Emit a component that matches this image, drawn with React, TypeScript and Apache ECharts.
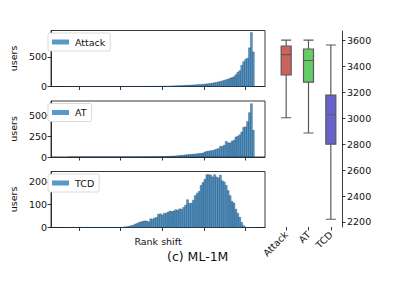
import React, { useEffect, useRef } from "react";
import * as echarts from "echarts";

// Histogram bins (rank shift), shared grid
const binStart = -4256;
const binWidth = 46.5;
const xTicks = [-4000, -3000, -2000, -1000, 0];

const attackCounts = [
  0, 0, 0, 0, 0, 0, 0, 0, 0, 0, 0, 0, 0, 0, 0, 0, 0, 0, 0, 0,
  0, 0, 0, 0, 1, 0, 0, 0, 1, 0, 0, 1, 0, 1, 0, 1, 1, 1, 1, 1,
  1, 2, 2, 2, 3, 3, 3, 4, 4, 5, 6, 7, 8, 10, 11, 12, 13, 15, 16, 18,
  20, 21, 23, 25, 26, 28, 30, 32, 34, 36, 40, 44, 48, 52, 58, 64, 70, 78, 85, 95,
  105, 115, 125, 140, 150, 165, 200, 240, 270, 360, 420, 460, 480, 655, 914, 586,
];

const atCounts = [
  0, 0, 0, 0, 0, 0, 0, 0, 0, 0, 0, 0, 0, 0, 0, 0, 0, 0, 0, 0,
  0, 0, 0, 0, 0, 1, 0, 0, 0, 1, 0, 0, 1, 0, 1, 0, 1, 1, 1, 1,
  1, 1, 2, 2, 2, 3, 3, 4, 4, 5, 6, 7, 8, 10, 11, 13, 15, 18, 20, 22,
  26, 28, 30, 32, 34, 36, 38, 42, 44, 48, 60, 68, 70, 75, 78, 85, 95, 100, 127, 128,
  140, 187, 170, 168, 190, 200, 240, 250, 266, 300, 355, 362, 425, 532, 639, 321,
];

const tcdCounts = [
  0, 0, 1, 0, 0, 0, 1, 0, 0, 1, 0, 0, 0, 1, 0, 0, 1, 0, 0, 0,
  1, 0, 0, 1, 0, 0, 1, 0, 2, 3, 4, 6, 8, 10, 15, 18, 22, 25, 27, 29,
  28, 25, 38, 36, 42, 44, 58, 60, 55, 62, 63, 68, 72, 70, 73, 78, 76, 82, 80, 88,
  98, 122, 106, 107, 120, 140, 150, 158, 185, 198, 212, 232, 232, 230, 222, 232, 222, 218, 230, 205,
  200, 185, 162, 140, 115, 108, 80, 62, 45, 22, 8, 2, 0, 0, 0, 0,
];

// Box plot: [min, Q1, median, Q3, max]
const boxCategories = ["Attack", "AT", "TCD"];
const attackBox = [3005, 3335, 3492, 3559, 3605];
const atBox = [2887, 3280, 3447, 3536, 3605];
const tcdBox = [2221, 2801, 3028, 3180, 3567];
const boxYTicks = [2200, 2400, 2600, 2800, 3000, 3200, 3400, 3600];

const histYTicks = [
  [0, 500],
  [0, 250, 500],
  [0, 100, 200],
];
const histYMax = [949, 672, 246];
const histNames = ["Attack", "AT", "TCD"];

const FONT = "DejaVu Sans";
const BAR_FILL = "rgba(31,119,180,0.75)";

function toBins(counts: number[]) {
  return counts.map((c, i) => [binStart + i * binWidth, binStart + (i + 1) * binWidth, c]);
}

export default function App() {
  const ref = useRef<HTMLDivElement>(null);
  useEffect(() => {
    if (!ref.current) return;
    const chart = echarts.init(ref.current, undefined, { renderer: "svg" });
    const allCounts = [attackCounts, atCounts, tcdCounts];
    const gridTops = [30.5, 101, 171.5];
    const grids: any[] = gridTops.map((t) => ({
      left: 44,
      top: t,
      width: 221,
      height: 56,
      show: true,
      borderColor: "#222",
      borderWidth: 0.9,
      backgroundColor: "transparent",
    }));
    grids.push({ left: 275, top: 31, width: 67, height: 196 });

    const xAxes: any[] = gridTops.map((_, i) => ({
      type: "value",
      gridIndex: i,
      min: -4674,
      max: 465,
      axisLine: { show: true, onZero: false, lineStyle: { color: "#222", width: 0.9 } },
      axisTick: {
        show: true,
        customValues: xTicks,
        length: 3.5,
        lineStyle: { color: "#222", width: 0.9 },
      },
      axisLabel: { show: false },
      splitLine: { show: false },
      name: i === 2 ? "Rank shift" : "",
      nameLocation: "middle",
      nameGap: 9,
      nameTextStyle: { fontFamily: FONT, fontSize: 9.5, color: "#111" },
    }));
    xAxes.push({
      type: "category",
      gridIndex: 3,
      data: boxCategories,
      axisLine: { show: false, onZero: false },
      axisTick: {
        show: true,
        alignWithLabel: true,
        length: 3.5,
        lineStyle: { color: "#222", width: 0.9 },
      },
      axisLabel: {
        rotate: 45,
        interval: 0,
        fontFamily: FONT,
        fontSize: 9.5,
        color: "#111",
        margin: 6,
      },
    });

    const yAxes: any[] = gridTops.map((_, i) => ({
      type: "value",
      gridIndex: i,
      min: 0,
      max: histYMax[i],
      axisLine: { show: true, onZero: false, lineStyle: { color: "#222", width: 0.9 } },
      axisTick: {
        show: true,
        customValues: histYTicks[i],
        length: 3.5,
        lineStyle: { color: "#222", width: 0.9 },
      },
      axisLabel: {
        customValues: histYTicks[i],
        formatter: (v: number) => String(v),
        fontFamily: FONT,
        fontSize: 9.5,
        color: "#111",
        margin: 4,
      },
      splitLine: { show: false },
      name: "users",
      nameLocation: "middle",
      nameRotate: 90,
      nameGap: 26,
      nameTextStyle: { fontFamily: FONT, fontSize: 9.5, color: "#111" },
    }));
    yAxes.push({
      type: "value",
      gridIndex: 3,
      position: "right",
      min: 2161,
      max: 3675,
      axisLine: { show: true, onZero: false, lineStyle: { color: "#222", width: 0.9 } },
      axisTick: {
        show: true,
        customValues: boxYTicks,
        length: 3.5,
        lineStyle: { color: "#222", width: 0.9 },
      },
      axisLabel: {
        customValues: boxYTicks,
        formatter: (v: number) => String(v),
        fontFamily: FONT,
        fontSize: 9.5,
        color: "#111",
        margin: 5,
      },
      splitLine: { show: false },
    });

    const series: any[] = allCounts.map((counts, i) => ({
      type: "custom",
      name: histNames[i],
      xAxisIndex: i,
      yAxisIndex: i,
      itemStyle: { color: BAR_FILL },
      data: toBins(counts),
      renderItem: (params: any, api: any) => {
        const x0 = api.value(0);
        const x1 = api.value(1);
        const y = api.value(2);
        const p0 = api.coord([x0, 0]);
        const p1 = api.coord([x1, y]);
        return {
          type: "rect",
          shape: { x: p0[0], y: p1[1], width: p1[0] - p0[0], height: p0[1] - p1[1] },
          style: { fill: BAR_FILL, stroke: "rgba(25,60,95,0.85)", lineWidth: 0.4 },
        };
      },
    }));
    series.push({
      type: "boxplot",
      xAxisIndex: 3,
      yAxisIndex: 3,
      boxWidth: [10, 10],
      data: [
        { value: attackBox, itemStyle: { color: "#cd625c", borderColor: "#5a5a5a", borderWidth: 1.2 } },
        { value: atBox, itemStyle: { color: "#66cc66", borderColor: "#5a5a5a", borderWidth: 1.2 } },
        { value: tcdBox, itemStyle: { color: "#6a62cc", borderColor: "#5a5a5a", borderWidth: 1.2 } },
      ],
    });

    const legends = gridTops.map((t, i) => ({
      data: [histNames[i]],
      left: 48,
      top: t + 2.5,
      orient: "horizontal",
      icon: "rect",
      itemWidth: 17,
      itemHeight: 5,
      itemGap: 5,
      padding: [4, 5, 4, 4],
      borderColor: "#d0d0d0",
      borderWidth: 0.8,
      borderRadius: 2,
      backgroundColor: "#fff",
      selectedMode: false,
      itemStyle: { color: BAR_FILL },
      textStyle: { fontFamily: FONT, fontSize: 9.5, color: "#111", padding: [0, 0, 0, 1] },
    }));

    chart.setOption({
      animation: false,
      backgroundColor: "#fff",
      textStyle: { fontFamily: FONT },
      grid: grids,
      xAxis: xAxes,
      yAxis: yAxes,
      legend: legends,
      series,
      graphic: [
        {
          type: "text",
          left: 167,
          top: 250,
          style: { text: "(c) ML-1M", fontFamily: FONT, fontSize: 12.5, fill: "#111" },
        },
      ],
    });
    return () => chart.dispose();
  }, []);
  return (
    <div
      ref={ref}
      style={{ position: "fixed", left: 0, top: 0, width: 399, height: 299 }}
    />
  );
}
